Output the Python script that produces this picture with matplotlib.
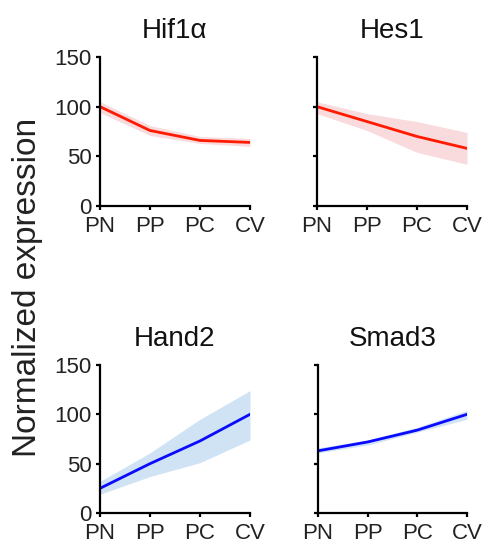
import matplotlib
matplotlib.use("Agg")
import matplotlib.pyplot as plt
import numpy as np

plt.rcParams['font.family'] = ['Liberation Sans', 'DejaVu Sans']

stages = ["PN", "PP", "PC", "CV"]

hif1a_mean = [100, 76, 66, 64]
hif1a_low = [94, 71, 63, 60]
hif1a_high = [105, 81, 70, 68]

hes1_mean = [100, 85, 70, 58]
hes1_low = [93, 76, 54, 42]
hes1_high = [105, 93, 85, 74]

hand2_mean = [25, 50, 73, 100]
hand2_low = [19, 37, 51, 74]
hand2_high = [32, 61, 95, 124]

smad3_mean = [63, 72, 84, 100]
smad3_low = [61, 69, 82, 95]
smad3_high = [66, 74, 87, 104]

panels = [
    ("Hif1\u03b1", hif1a_mean, hif1a_low, hif1a_high, "red"),
    ("Hes1", hes1_mean, hes1_low, hes1_high, "red"),
    ("Hand2", hand2_mean, hand2_low, hand2_high, "blue"),
    ("Smad3", smad3_mean, smad3_low, smad3_high, "blue"),
]

line_colors = {"red": "#ff1a00", "blue": "#0a0aff"}
band_colors = {"red": "#f9dadd", "blue": "#cfe3f5"}

fig = plt.figure(figsize=(4.84, 5.48), dpi=100)
W, H = 484, 548
positions = [
    (100, 57, 250, 206),
    (317, 57, 467, 206),
    (100, 365, 250, 513),
    (318, 365, 467, 513),
]

x = np.arange(len(stages))
for i, ((title, m, lo, hi, col), (x0, y0, x1, y1)) in enumerate(zip(panels, positions)):
    ax = fig.add_axes([x0 / W, 1 - y1 / H, (x1 - x0) / W, (y1 - y0) / H])
    ax.fill_between(x, lo, hi, color=band_colors[col], linewidth=0, zorder=1)
    ax.plot(x, m, color=line_colors[col], linewidth=2.0, zorder=2)
    ax.set_xlim(0, 3)
    ax.set_ylim(0, 150)
    ax.set_xticks(x)
    ax.set_xticklabels(stages)
    ax.set_yticks([0, 50, 100, 150])
    if i % 2 == 1:
        ax.set_yticklabels([])
    for s in ["top", "right"]:
        ax.spines[s].set_visible(False)
    for s in ["left", "bottom"]:
        ax.spines[s].set_linewidth(1.6)
        ax.spines[s].set_color("black")
    ax.tick_params(axis="both", direction="out", length=3, width=1.6,
                   labelsize=16, colors="black", labelcolor="#222222")
    ax.tick_params(axis="x", pad=4)
    ax.tick_params(axis="y", pad=3)
    ax.set_title(title, fontsize=20, pad=14, color="#111111")
    for sp in ax.spines.values():
        sp.set_clip_on(False)

fig.text(28 / W, 1 - 287 / H, "Normalized expression", rotation=90,
         ha="center", va="center", fontsize=24, color="#222222")

fig.savefig("out.png", dpi=100)
